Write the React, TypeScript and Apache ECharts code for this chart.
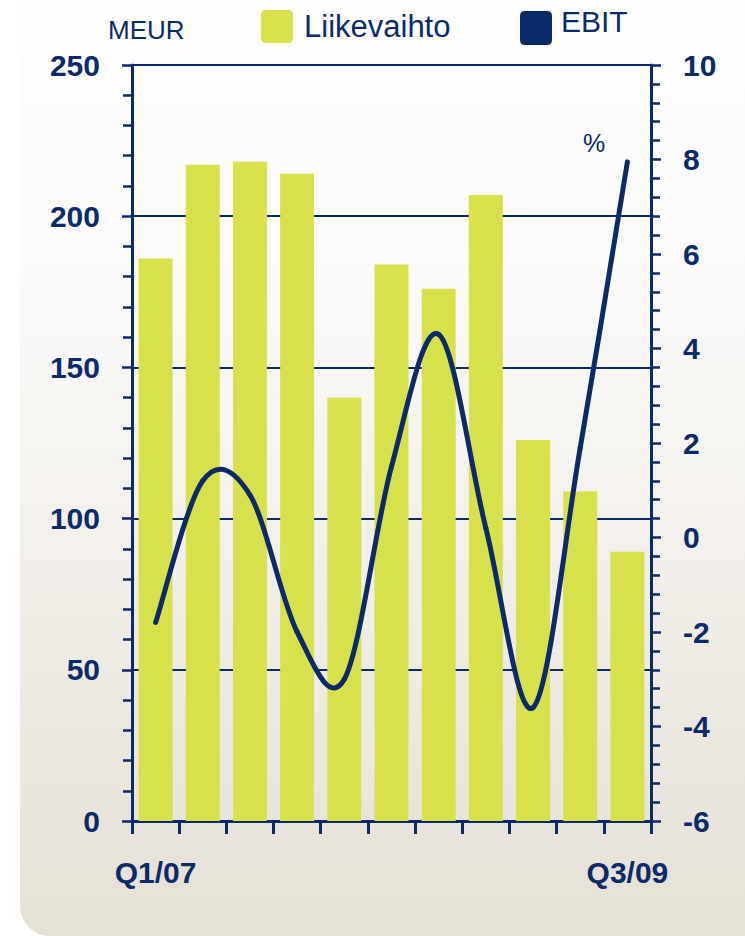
import React, { useEffect, useRef } from "react";
import * as echarts from "echarts";

const categories = ["Q1/07", "Q2/07", "Q3/07", "Q4/07", "Q1/08", "Q2/08", "Q3/08", "Q4/08", "Q1/09", "Q2/09", "Q3/09"];
const liikevaihto = [186, 217, 218, 214, 140, 184, 176, 207, 126, 109, 89];
const ebit = [-1.8, 1.2, 0.9, -2.0, -3.0, 1.5, 4.3, 0.2, -3.6, 1.9, 7.95];
const leftMin = 0;
const leftMax = 250;
const leftInterval = 50;
const rightMin = -6;
const rightMax = 10;
const rightInterval = 2;
const unitLeft = "MEUR";
const unitRight = "%";

const NAVY = "#0b2a6a";
const BAR = "#d8e04b";
const SANS = "'Liberation Sans', Arial, sans-serif";

// rounded-square legend icons (the EBIT one keeps empty room above the square)
const ICON_SQUARE = "path://M5 0 H27 Q32 0 32 5 V28 Q32 33 27 33 H5 Q0 33 0 28 V5 Q0 0 5 0 Z";
const ICON_SQUARE_LOW =
  "path://M0 0 L0.01 0 L0 0.01 Z M5 13 H27 Q32 13 32 18 V42 Q32 47 27 47 H5 Q0 47 0 42 V18 Q0 13 5 13 Z";

export default function App() {
  const ref = useRef<HTMLDivElement>(null);
  useEffect(() => {
    if (!ref.current) return;
    const chart = echarts.init(ref.current, undefined, { renderer: "svg" });
    const last = categories.length - 1;
    const axisLabelStyle = {
      color: NAVY,
      fontSize: 30,
      fontWeight: "bold",
      fontFamily: SANS,
    };
    chart.setOption({
      animation: false,
      graphic: [
        {
          type: "rect",
          z: -10,
          shape: { x: 20, y: -60, width: 765, height: 996, r: 30 },
          style: {
            fill: new echarts.graphic.LinearGradient(0, 0, 0, 1, [
              { offset: 0, color: "#ffffff" },
              { offset: 0.35, color: "#fbfaf9" },
              { offset: 1, color: "#e5e0d5" },
            ]),
          },
        },
        {
          type: "text",
          left: 108,
          top: 17,
          style: { text: unitLeft, fill: NAVY, font: `26px ${SANS}` },
        },
        {
          type: "text",
          left: 583,
          top: 130,
          style: { text: unitRight, fill: NAVY, font: `25px ${SANS}` },
        },
      ],
      legend: [
        {
          data: ["Liikevaihto"],
          left: 261,
          top: 10,
          padding: 0,
          itemWidth: 32,
          itemHeight: 33,
          icon: ICON_SQUARE,
          textStyle: { color: NAVY, fontSize: 31, fontFamily: SANS, padding: [0, 0, 0, 6] },
          selectedMode: false,
        },
        {
          data: ["EBIT"],
          left: 520,
          top: -2,
          padding: 0,
          itemWidth: 32,
          itemHeight: 47,
          icon: ICON_SQUARE_LOW,
          textStyle: { color: NAVY, fontSize: 30, fontFamily: SANS, padding: [0, 0, 0, 4] },
          selectedMode: false,
        },
      ],
      grid: { left: 132, right: 94, top: 65, bottom: 115, containLabel: false },
      xAxis: {
        type: "category",
        data: categories,
        axisLine: { lineStyle: { color: NAVY, width: 3 } },
        axisTick: { show: true, length: 13, lineStyle: { color: NAVY, width: 3 } },
        axisLabel: {
          interval: 0,
          margin: 36,
          ...axisLabelStyle,
          formatter: (v: string, i: number) => (i === 0 || i === last ? v : ""),
        },
        splitLine: { show: false },
      },
      yAxis: [
        {
          type: "value",
          min: leftMin,
          max: leftMax,
          interval: leftInterval,
          axisLine: { show: true, lineStyle: { color: NAVY, width: 3 } },
          axisTick: { show: true, length: 10, lineStyle: { color: NAVY, width: 2.5 } },
          minorTick: { show: true, splitNumber: 5, length: 9, lineStyle: { color: NAVY, width: 2.5 } },
          splitLine: { show: true, lineStyle: { color: NAVY, width: 2 } },
          axisLabel: { margin: 32, ...axisLabelStyle },
        },
        {
          type: "value",
          min: rightMin,
          max: rightMax,
          interval: rightInterval,
          position: "right",
          axisLine: { show: true, lineStyle: { color: NAVY, width: 3 } },
          axisTick: { show: true, length: 10, lineStyle: { color: NAVY, width: 2.5 } },
          minorTick: { show: true, splitNumber: 5, length: 9, lineStyle: { color: NAVY, width: 2.5 } },
          splitLine: { show: false },
          axisLabel: { margin: 32, ...axisLabelStyle },
        },
      ],
      series: [
        {
          name: "Liikevaihto",
          type: "bar",
          data: liikevaihto,
          barWidth: "72%",
          itemStyle: { color: BAR },
          z: 2,
        },
        {
          name: "EBIT",
          type: "custom",
          yAxisIndex: 1,
          data: ebit.map((v, i) => [i, v]),
          encode: { x: 0, y: 1 },
          itemStyle: { color: NAVY },
          z: 3,
          renderItem: (params: any, api: any) => {
            if (params.dataIndex !== 0) return null;
            const pts = ebit.map((v, i) => api.coord([i, v]));
            const n = pts.length;
            const children: any[] = [];
            for (let i = 0; i < n - 1; i++) {
              const p0 = pts[Math.max(0, i - 1)];
              const p1 = pts[i];
              const p2 = pts[i + 1];
              const p3 = pts[Math.min(n - 1, i + 2)];
              children.push({
                type: "bezierCurve",
                shape: {
                  x1: p1[0],
                  y1: p1[1],
                  cpx1: p1[0] + (p2[0] - p0[0]) / 6,
                  cpy1: p1[1] + (p2[1] - p0[1]) / 6,
                  cpx2: p2[0] - (p3[0] - p1[0]) / 6,
                  cpy2: p2[1] - (p3[1] - p1[1]) / 6,
                  x2: p2[0],
                  y2: p2[1],
                },
                style: { stroke: NAVY, lineWidth: 5, fill: "none", lineCap: "round" },
              });
            }
            return { type: "group", children };
          },
        },
      ],
    });
    return () => chart.dispose();
  }, []);
  return (
    <div
      ref={ref}
      style={{ position: "absolute", left: 0, top: 0, width: 745, height: 936, background: "#ffffff" }}
    />
  );
}
